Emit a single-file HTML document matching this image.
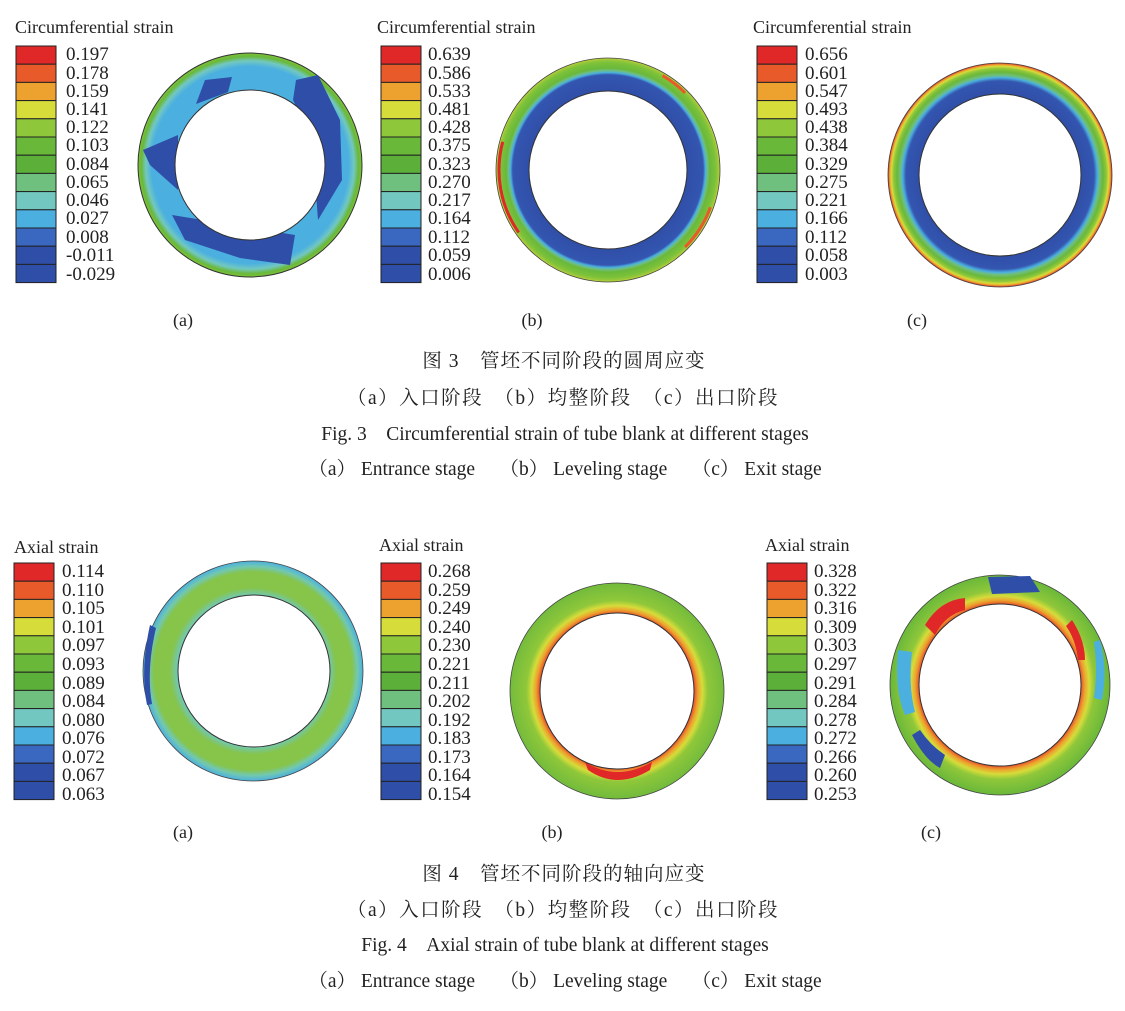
<!DOCTYPE html>
<html><head><meta charset="utf-8"><style>
body{margin:0;background:#fff;}
svg{display:block;font-family:"Liberation Serif","Noto Serif CJK SC",serif;}
</style></head><body>
<svg width="1125" height="1011" viewBox="0 0 1125 1011" xmlns="http://www.w3.org/2000/svg">
<defs>
<g id="cells" stroke="#222" stroke-width="1">
<rect y="0" width="40" height="18.2" fill="#e02828"/><rect y="18.2" width="40" height="18.2" fill="#e85a2a"/><rect y="36.4" width="40" height="18.2" fill="#eda12e"/><rect y="54.6" width="40" height="18.2" fill="#d6dc3a"/><rect y="72.8" width="40" height="18.2" fill="#8fc73a"/><rect y="91" width="40" height="18.2" fill="#6ab83a"/><rect y="109.2" width="40" height="18.2" fill="#5cb03a"/><rect y="127.4" width="40" height="18.2" fill="#6fbf7e"/><rect y="145.6" width="40" height="18.2" fill="#72c8c0"/><rect y="163.8" width="40" height="18.2" fill="#4bb0e0"/><rect y="182" width="40" height="18.2" fill="#3a68c0"/><rect y="200.2" width="40" height="18.2" fill="#2f4ea8"/><rect y="218.4" width="40" height="18.2" fill="#2f4ea8"/>
</g>
<radialGradient id="g3a" gradientUnits="userSpaceOnUse" cx="250" cy="165" r="112">
<stop offset="0.67" stop-color="#4bb0e0"/><stop offset="0.88" stop-color="#4bb0e0"/><stop offset="0.93" stop-color="#72c8c0"/><stop offset="0.97" stop-color="#6ab83a"/><stop offset="1" stop-color="#7cc23a"/>
</radialGradient>
<radialGradient id="g3b" gradientUnits="userSpaceOnUse" cx="608" cy="170" r="112">
<stop offset="0.70" stop-color="#2f4ea8"/><stop offset="0.85" stop-color="#3456b0"/><stop offset="0.87" stop-color="#4bb0e0"/><stop offset="0.89" stop-color="#6fbf7e"/><stop offset="0.91" stop-color="#6ab83a"/><stop offset="0.96" stop-color="#7cc23a"/><stop offset="0.985" stop-color="#9cc83a"/><stop offset="1" stop-color="#c8d63a"/>
</radialGradient>
<radialGradient id="g3c" gradientUnits="userSpaceOnUse" cx="1000" cy="175" r="112">
<stop offset="0.72" stop-color="#2f4ea8"/><stop offset="0.84" stop-color="#3456b0"/><stop offset="0.87" stop-color="#4bb0e0"/><stop offset="0.89" stop-color="#6fbf7e"/><stop offset="0.92" stop-color="#6ab83a"/><stop offset="0.95" stop-color="#8fc73a"/><stop offset="0.97" stop-color="#d6dc3a"/><stop offset="0.985" stop-color="#eda12e"/><stop offset="1" stop-color="#e02828"/>
</radialGradient>
<radialGradient id="g4a" gradientUnits="userSpaceOnUse" cx="253" cy="671" r="110">
<stop offset="0.69" stop-color="#72c8b0"/><stop offset="0.76" stop-color="#86c44a"/><stop offset="0.90" stop-color="#86c44a"/><stop offset="0.95" stop-color="#72c8b0"/><stop offset="1" stop-color="#4bb0e0"/>
</radialGradient>
<radialGradient id="g4b" gradientUnits="userSpaceOnUse" cx="617" cy="691" r="108">
<stop offset="0.72" stop-color="#e85a2a"/><stop offset="0.75" stop-color="#eda12e"/><stop offset="0.79" stop-color="#d6dc3a"/><stop offset="0.84" stop-color="#8fc73a"/><stop offset="1" stop-color="#72bb3c"/>
</radialGradient>
<radialGradient id="g4c" gradientUnits="userSpaceOnUse" cx="1000" cy="685" r="110">
<stop offset="0.74" stop-color="#e85a2a"/><stop offset="0.77" stop-color="#eda12e"/><stop offset="0.81" stop-color="#d6dc3a"/><stop offset="0.86" stop-color="#8fc73a"/><stop offset="1" stop-color="#6ab83a"/>
</radialGradient>
<mask id="m3a"><rect width="1125" height="1011" fill="#fff"/><circle cx="250" cy="165" r="75" fill="#000"/></mask>
<mask id="m4c"><rect width="1125" height="1011" fill="#fff"/><circle cx="1000" cy="685" r="81" fill="#000"/></mask>
</defs>

<!-- Fig3 (a) ring -->
<g mask="url(#m3a)">
<circle cx="250" cy="165" r="112" fill="url(#g3a)" stroke="#333" stroke-width="1"/>
<path d="M205 80 L232 77 L228 92 L196 104 Z" fill="#2f4ea8"/>
<path d="M296 80 L318 75 L340 120 L342 180 L318 220 L312 140 L293 100 Z" fill="#2f4ea8"/>
<path d="M143 150 L178 135 L178 190 L150 165 Z" fill="#2f4ea8"/>
<path d="M172 215 L295 235 L290 265 L240 258 L185 240 Z" fill="#2f4ea8"/>
</g>
<circle cx="250" cy="165" r="75" fill="none" stroke="#333" stroke-width="1"/>

<!-- Fig3 (b) -->
<circle cx="608" cy="170" r="112" fill="url(#g3b)" stroke="#444" stroke-width="0.8"/>
<path d="M502.7 141.8 A109 109 0 0 0 518.7 232.5" fill="none" stroke="#e02828" stroke-width="3"/>
<path d="M662.5 75.6 A109 109 0 0 1 685.1 92.9" fill="none" stroke="#e85a2a" stroke-width="3"/>
<path d="M710.4 207.3 A109 109 0 0 1 685.1 247.1" fill="none" stroke="#e85a2a" stroke-width="3"/>
<circle cx="608" cy="170" r="79" fill="#fff" stroke="#333" stroke-width="1"/>
<!-- Fig3 (c) -->
<circle cx="1000" cy="175" r="112" fill="url(#g3c)" stroke="#444" stroke-width="0.8"/>
<circle cx="1000" cy="175" r="81" fill="#fff" stroke="#333" stroke-width="1"/>

<!-- Fig4 (a) -->
<circle cx="253" cy="671" r="110" fill="url(#g4a)" stroke="#444" stroke-width="0.8"/>
<path d="M150 625 Q140 670 147 705 L152 704 Q146 670 156 628 Z" fill="#2f4ea8"/>
<circle cx="254" cy="671" r="76" fill="#fff" stroke="#333" stroke-width="1"/>

<!-- Fig4 (b) -->
<ellipse cx="617" cy="691" rx="107" ry="108" fill="url(#g4b)" stroke="#444" stroke-width="0.8"/>
<path d="M585 762 Q617 782 652 762 L650 770 Q617 790 588 770 Z" fill="#e02828"/>
<ellipse cx="617" cy="691" rx="77" ry="78" fill="#fff" stroke="#333" stroke-width="1"/>

<!-- Fig4 (c) -->
<g mask="url(#m4c)">
<circle cx="1000" cy="685" r="110" fill="url(#g4c)" stroke="#444" stroke-width="0.8"/>
<path d="M988 577 L1030 576 L1040 592 L992 594 Z" fill="#2f4ea8"/>
<path d="M898 650 Q894 690 905 715 L915 712 Q908 685 912 652 Z" fill="#4bb0e0"/>
<path d="M912 735 Q925 760 940 768 L945 755 Q930 745 920 730 Z" fill="#2f4ea8"/>
<path d="M1100 640 Q1108 670 1102 700 L1094 698 Q1098 670 1094 642 Z" fill="#4bb0e0"/>
<path d="M925 625 Q940 600 965 598 L965 610 Q945 615 935 635 Z" fill="#e02828"/>
<path d="M1072 620 Q1085 640 1085 660 L1078 660 Q1076 640 1066 626 Z" fill="#e02828"/>
</g>
<circle cx="1000" cy="685" r="81" fill="none" stroke="#333" stroke-width="1"/>

<!-- legends -->
<use href="#cells" x="16" y="46"/>
<use href="#cells" x="381" y="46"/>
<use href="#cells" x="757" y="46"/>
<use href="#cells" x="14" y="563"/>
<use href="#cells" x="381" y="563"/>
<use href="#cells" x="767" y="563"/>

<g font-size="18" fill="#222">
<text x="15" y="33">Circumferential strain</text>
<text x="377" y="33">Circumferential strain</text>
<text x="753" y="33">Circumferential strain</text>
<text x="14" y="553">Axial strain</text>
<text x="379" y="551">Axial strain</text>
<text x="765" y="551">Axial strain</text>
</g>

<g font-size="19" fill="#222">
<text x="66" y="60">0.197</text><text x="66" y="79">0.178</text><text x="66" y="97">0.159</text><text x="66" y="115">0.141</text><text x="66" y="133">0.122</text><text x="66" y="151">0.103</text><text x="66" y="170">0.084</text><text x="66" y="188">0.065</text><text x="66" y="206">0.046</text><text x="66" y="224">0.027</text><text x="66" y="243">0.008</text><text x="66" y="261">-0.011</text><text x="66" y="280">-0.029</text>
</g>
<g font-size="19" fill="#222">
<text x="428" y="60">0.639</text><text x="428" y="79">0.586</text><text x="428" y="97">0.533</text><text x="428" y="115">0.481</text><text x="428" y="133">0.428</text><text x="428" y="151">0.375</text><text x="428" y="170">0.323</text><text x="428" y="188">0.270</text><text x="428" y="206">0.217</text><text x="428" y="224">0.164</text><text x="428" y="243">0.112</text><text x="428" y="261">0.059</text><text x="428" y="280">0.006</text>
</g>
<g font-size="19" fill="#222">
<text x="805" y="60">0.656</text><text x="805" y="79">0.601</text><text x="805" y="97">0.547</text><text x="805" y="115">0.493</text><text x="805" y="133">0.438</text><text x="805" y="151">0.384</text><text x="805" y="170">0.329</text><text x="805" y="188">0.275</text><text x="805" y="206">0.221</text><text x="805" y="224">0.166</text><text x="805" y="243">0.112</text><text x="805" y="261">0.058</text><text x="805" y="280">0.003</text>
</g>
<g font-size="19" fill="#222">
<text x="62" y="577">0.114</text><text x="62" y="596">0.110</text><text x="62" y="614">0.105</text><text x="62" y="633">0.101</text><text x="62" y="651">0.097</text><text x="62" y="670">0.093</text><text x="62" y="689">0.089</text><text x="62" y="707">0.084</text><text x="62" y="726">0.080</text><text x="62" y="744">0.076</text><text x="62" y="763">0.072</text><text x="62" y="781">0.067</text><text x="62" y="800">0.063</text>
</g>
<g font-size="19" fill="#222">
<text x="428" y="577">0.268</text><text x="428" y="596">0.259</text><text x="428" y="614">0.249</text><text x="428" y="633">0.240</text><text x="428" y="651">0.230</text><text x="428" y="670">0.221</text><text x="428" y="689">0.211</text><text x="428" y="707">0.202</text><text x="428" y="726">0.192</text><text x="428" y="744">0.183</text><text x="428" y="763">0.173</text><text x="428" y="781">0.164</text><text x="428" y="800">0.154</text>
</g>
<g font-size="19" fill="#222">
<text x="814" y="577">0.328</text><text x="814" y="596">0.322</text><text x="814" y="614">0.316</text><text x="814" y="633">0.309</text><text x="814" y="651">0.303</text><text x="814" y="670">0.297</text><text x="814" y="689">0.291</text><text x="814" y="707">0.284</text><text x="814" y="726">0.278</text><text x="814" y="744">0.272</text><text x="814" y="763">0.266</text><text x="814" y="781">0.260</text><text x="814" y="800">0.253</text>
</g>

<g font-size="18" fill="#222" text-anchor="middle">
<text x="183" y="326">(a)</text><text x="532" y="326">(b)</text><text x="917" y="326">(c)</text>
<text x="183" y="838">(a)</text><text x="552" y="838">(b)</text><text x="931" y="838">(c)</text>
</g>
<g font-size="19.5" fill="#222" text-anchor="middle">
<text x="564" y="367" letter-spacing="1">图 3　管坯不同阶段的圆周应变</text>
<text x="563" y="404" letter-spacing="1.5">（a）入口阶段　（b）均整阶段　（c）出口阶段</text>
<text x="565" y="440">Fig. 3　Circumferential strain of tube blank at different stages</text>
<text x="565" y="475">（a） Entrance stage　 （b） Leveling stage　 （c） Exit stage</text>
<text x="564" y="880" letter-spacing="1">图 4　管坯不同阶段的轴向应变</text>
<text x="563" y="916" letter-spacing="1.5">（a）入口阶段　（b）均整阶段　（c）出口阶段</text>
<text x="565" y="951">Fig. 4　Axial strain of tube blank at different stages</text>
<text x="565" y="987">（a） Entrance stage　 （b） Leveling stage　 （c） Exit stage</text>
</g>
</svg>
</body></html>
